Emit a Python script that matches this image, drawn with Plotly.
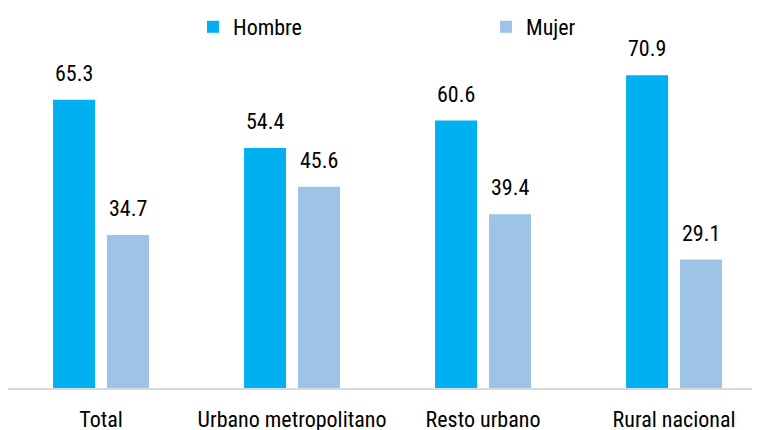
import plotly.graph_objects as go

categories = ["Total", "Urbano metropolitano", "Resto urbano", "Rural nacional"]
hombre = [65.3, 54.4, 60.6, 70.9]
mujer = [34.7, 45.6, 39.4, 29.1]

FONT = "Liberation Sans Narrow, Arial Narrow, Roboto Condensed, Liberation Sans, Arial, sans-serif"
C_H = "#00B0F0"
C_M = "#9DC3E6"

fig = go.Figure()
fig.add_trace(go.Bar(name="Hombre", x=categories, y=hombre, marker_color=C_H,
                     marker_line_width=0, hoverinfo="skip", legend="legend"))
fig.add_trace(go.Bar(name="Mujer", x=categories, y=mujer, marker_color=C_M,
                     marker_line_width=0, hoverinfo="skip", legend="legend2"))

annotations = []
for cat, h, m in zip(categories, hombre, mujer):
    for val, shift in ((h, -27), (m, 27)):
        annotations.append(dict(x=cat, y=val, xref="x", yref="y", text=f"{val:.1f}",
                                showarrow=False, xshift=shift, yshift=12,
                                yanchor="bottom", xanchor="center",
                                font=dict(family=FONT, size=22, color="#000000")))

leg_common = dict(orientation="h", yanchor="middle", y=1.0227, xanchor="left",
                  itemwidth=30, bgcolor="rgba(0,0,0,0)",
                  font=dict(family=FONT, size=22, color="#000000"))

fig.update_layout(
    width=752, height=430,
    margin=dict(l=0, r=0, t=27, b=50, autoexpand=False),
    paper_bgcolor="white", plot_bgcolor="white",
    barmode="group", bargap=0.435, bargroupgap=0.222,
    font=dict(family=FONT, size=22, color="#000000"),
    showlegend=True,
    legend=dict(x=0.246, **leg_common),
    legend2=dict(x=0.6357, **leg_common),
    xaxis=dict(type="category", range=[-0.487, 3.45], showgrid=False, showline=True,
               linecolor="#D9D9D9", linewidth=2, ticks="", ticklen=0,
               ticklabelstandoff=11,
               tickfont=dict(family=FONT, size=22, color="#000000")),
    yaxis=dict(range=[0, 80], visible=False, showgrid=False, zeroline=False),
    annotations=annotations,
)

fig.write_html("out.html")
